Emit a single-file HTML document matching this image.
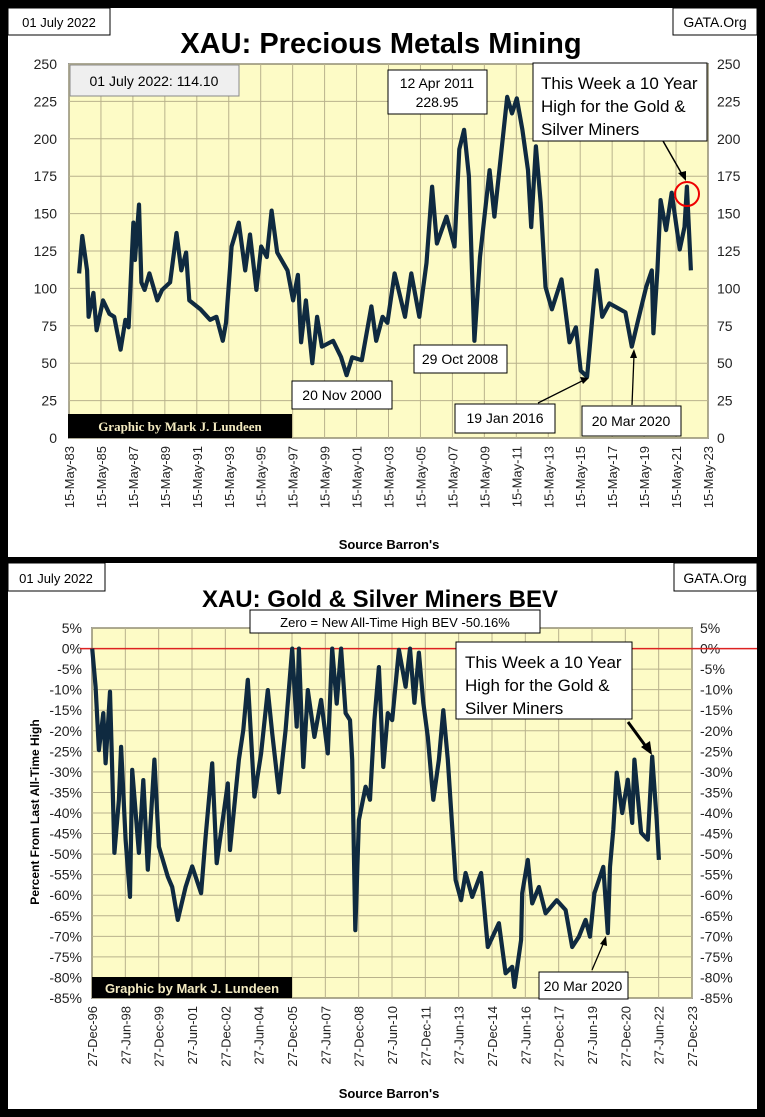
<!DOCTYPE html>
<html><head><meta charset="utf-8"><style>
html,body{margin:0;padding:0;background:#000;width:765px;height:1117px;overflow:hidden}
svg{display:block;font-family:"Liberation Sans",sans-serif}
</style></head><body>
<svg id="s" width="765" height="1117" viewBox="0 0 765 1117">
<rect x="0" y="0" width="765" height="1117" fill="#000"/>
<g id="top">
<rect x="8" y="8" width="749" height="549" fill="#fff"/>
<rect id="p1" x="69" y="64" width="639" height="374" fill="#fdfbc6" stroke="#444" stroke-width="1.5"/>
<g id="g1"></g>
<g id="ax1"></g>
<path id="l1" fill="none" stroke="#0f2a40" stroke-width="4.2" stroke-linejoin="round"/>
<rect x="8" y="8" width="102" height="27" fill="#fff" stroke="#000"/>
<text x="59" y="27" font-size="13" text-anchor="middle">01 July 2022</text>
<text x="381" y="53" font-size="29" font-weight="bold" text-anchor="middle">XAU: Precious Metals Mining</text>
<rect x="673" y="8" width="84" height="27" fill="#fff" stroke="#000"/>
<text x="715" y="27" font-size="14" text-anchor="middle">GATA.Org</text>
<rect x="70" y="65" width="169" height="31" fill="#efefef" stroke="#888"/>
<text x="154" y="86" font-size="14" text-anchor="middle">01 July 2022:  114.10</text>
<rect x="388" y="70" width="99" height="44" fill="#fff" stroke="#000"/>
<text x="437" y="88" font-size="14" text-anchor="middle">12 Apr 2011</text>
<text x="437" y="107" font-size="14" text-anchor="middle">228.95</text>
<rect x="533" y="63" width="174" height="78" fill="#fff" stroke="#000"/>
<text x="541" y="89" font-size="17">This Week a 10 Year</text>
<text x="541" y="112" font-size="17">High for the Gold &amp;</text>
<text x="541" y="135" font-size="17">Silver Miners</text>
<line x1="663" y1="141" x2="683" y2="176" stroke="#000" stroke-width="1.5"/>
<polygon points="686,181 678,173 686,171" fill="#000"/>
<circle cx="687" cy="194" r="12" fill="none" stroke="#e00" stroke-width="2"/>
<rect x="414" y="345" width="93" height="28" fill="#fff" stroke="#000"/>
<text x="460" y="364" font-size="14" text-anchor="middle">29 Oct 2008</text>
<rect x="292" y="381" width="100" height="28" fill="#fff" stroke="#000"/>
<text x="342" y="400" font-size="14" text-anchor="middle">20 Nov 2000</text>
<rect x="455" y="404" width="100" height="29" fill="#fff" stroke="#000"/>
<text x="505" y="423" font-size="14" text-anchor="middle">19 Jan 2016</text>
<line x1="538" y1="403" x2="584" y2="380" stroke="#000" stroke-width="1.3"/>
<polygon points="589,378 580,377 583,384" fill="#000"/>
<rect x="582" y="406" width="99" height="30" fill="#fff" stroke="#000"/>
<text x="631" y="426" font-size="14" text-anchor="middle">20 Mar 2020</text>
<line x1="632" y1="405" x2="634" y2="355" stroke="#000" stroke-width="1.3"/>
<polygon points="634,349 630,358 637,358" fill="#000"/>
<rect x="68" y="414" width="224" height="24" fill="#000"/>
<text x="180" y="431" font-size="13" font-weight="bold" fill="#f3eac0" text-anchor="middle" font-family="Liberation Serif,serif">Graphic by Mark J. Lundeen</text>
<text x="389" y="549" font-size="13" font-weight="bold" text-anchor="middle">Source Barron's</text>
</g>
<g id="bot">
<rect x="8" y="563" width="749" height="546" fill="#fff"/>
<rect id="p2" x="92" y="628" width="600" height="370" fill="#fdfbc6" stroke="#444" stroke-width="1.5"/>
<g id="g2"></g>
<g id="ax2"></g>
<line x1="80" y1="648.6" x2="757" y2="648.6" stroke="#d22" stroke-width="1.5"/>
<path id="l2" fill="none" stroke="#0f2a40" stroke-width="4.2" stroke-linejoin="round"/>
<rect x="8" y="563" width="97" height="28" fill="#fff" stroke="#000"/>
<text x="56" y="583" font-size="13" text-anchor="middle">01 July 2022</text>
<text x="380" y="607" font-size="24" font-weight="bold" text-anchor="middle">XAU: Gold &amp; Silver Miners BEV</text>
<rect x="674" y="563" width="83" height="28" fill="#fff" stroke="#000"/>
<text x="715" y="583" font-size="14" text-anchor="middle">GATA.Org</text>
<rect x="250" y="610" width="290" height="23" fill="#fff" stroke="#000"/>
<text x="395" y="627" font-size="13" text-anchor="middle">Zero = New All-Time High BEV -50.16%</text>
<rect x="456" y="642" width="176" height="77" fill="#fff" stroke="#000"/>
<text x="465" y="668" font-size="17">This Week a 10 Year</text>
<text x="465" y="691" font-size="17">High for the Gold &amp;</text>
<text x="465" y="714" font-size="17">Silver Miners</text>
<line x1="628" y1="722" x2="647" y2="748" stroke="#000" stroke-width="3"/>
<polygon points="652,755 641,747 650,741" fill="#000"/>
<rect x="539" y="972" width="89" height="27" fill="#fff" stroke="#000"/>
<text x="583" y="991" font-size="14" text-anchor="middle">20 Mar 2020</text>
<line x1="592" y1="970" x2="604" y2="942" stroke="#000" stroke-width="1.3"/>
<polygon points="606,936 600,944 607,946" fill="#000"/>
<rect x="92" y="977" width="200" height="21" fill="#000"/>
<text x="192" y="993" font-size="13" font-weight="bold" fill="#f3eac0" text-anchor="middle">Graphic by Mark J. Lundeen</text>
<text transform="translate(39,812) rotate(-90)" font-size="12" font-weight="bold" text-anchor="middle">Percent  From  Last  All-Time  High</text>
<text x="389" y="1098" font-size="13" font-weight="bold" text-anchor="middle">Source Barron's</text>
</g>
</svg>
<script>
// Top chart data
const topYears=[1984.0,1984.2,1984.5,1984.6,1984.9,1985.1,1985.5,1985.9,1986.2,1986.6,1986.9,1987.1,1987.4,1987.5,1987.75,1987.9,1988.1,1988.4,1988.9,1989.2,1989.7,1990.1,1990.4,1990.7,1990.9,1991.6,1992.2,1992.6,1993.0,1993.2,1993.55,1994.0,1994.4,1994.7,1995.1,1995.4,1995.75,1996.05,1996.4,1997.05,1997.4,1997.7,1997.9,1998.2,1998.6,1998.9,1999.2,1999.9,2000.4,2000.75,2001.1,2001.7,2002.3,2002.6,2003.0,2003.3,2003.75,2004.4,2004.8,2005.3,2005.75,2006.1,2006.4,2007.0,2007.5,2007.8,2008.1,2008.4,2008.6,2008.75,2009.1,2009.7,2010.0,2010.4,2010.8,2011.1,2011.4,2011.75,2012.1,2012.3,2012.6,2012.9,2013.2,2013.6,2014.2,2014.7,2015.1,2015.4,2015.8,2016.1,2016.4,2016.75,2017.2,2018.2,2018.6,2019.0,2019.5,2019.85,2019.95,2020.2,2020.4,2020.75,2021.1,2021.6,2021.9,2022.05,2022.3];
const topValues=[110,135,112,81,97,72,92,83,81,59,79,74,144,119,156,104,99,110,92,99,104,137,112,124,92,86,79,81,65,77,128,144,112,136,99,128,121,152,124,112,92,109,64,92,50,81,61,65,54,42,54,52,88,65,81,77,110,81,110,81,117,168,130,148,128,193,206,175,112,65,121,179,148,188,228,217,227,206,179,141,195,157,101,86,106,64,74,45,41,77,112,81,90,84,61,79,101,112,70,112,159,139,164,126,141,168,112];
const topYTicks=[0,25,50,75,100,125,150,175,200,225,250];
const topXLabels=["15-May-83","15-May-85","15-May-87","15-May-89","15-May-91","15-May-93","15-May-95","15-May-97","15-May-99","15-May-01","15-May-03","15-May-05","15-May-07","15-May-09","15-May-11","15-May-13","15-May-15","15-May-17","15-May-19","15-May-21","15-May-23"];
// Bottom chart data
const botYears=[1997.0,1997.15,1997.3,1997.5,1997.6,1997.8,1997.9,1998.0,1998.2,1998.3,1998.5,1998.7,1998.8,1999.1,1999.3,1999.5,1999.8,2000.0,2000.4,2000.6,2000.85,2001.2,2001.5,2001.9,2002.1,2002.4,2002.6,2003.1,2003.2,2003.6,2003.8,2004.0,2004.3,2004.6,2004.9,2005.1,2005.4,2005.7,2006.0,2006.2,2006.3,2006.5,2006.7,2007.0,2007.3,2007.6,2007.8,2008.0,2008.2,2008.4,2008.6,2008.7,2008.84,2009.0,2009.3,2009.5,2009.7,2009.9,2010.1,2010.3,2010.5,2010.8,2011.1,2011.3,2011.5,2011.7,2011.9,2012.1,2012.35,2012.6,2012.8,2013.0,2013.2,2013.35,2013.6,2013.8,2014.1,2014.5,2014.8,2015.3,2015.6,2015.9,2016.0,2016.3,2016.35,2016.6,2016.8,2017.1,2017.4,2017.9,2018.3,2018.6,2018.9,2019.2,2019.4,2019.6,2019.8,2020.0,2020.2,2020.3,2020.45,2020.6,2020.85,2021.1,2021.3,2021.4,2021.7,2022.0,2022.2,2022.4,2022.5];
const botValues=[0,-9.3,-24.7,-15.7,-27.9,-10.5,-29.5,-49.7,-36.8,-23.9,-46.5,-60.4,-29.5,-49.7,-32,-53.8,-27,-48.2,-55.5,-58,-66,-58,-53,-59.5,-45.8,-27.9,-52.2,-32.8,-49,-27,-19.8,-7.6,-36,-25.5,-10.1,-20.6,-35,-19.8,0,-19,0,-28.8,-10.1,-21.5,-12.5,-25.5,0,-13.4,0,-15.7,-17.4,-27,-68.5,-41.7,-33.6,-36.8,-17.4,-4.5,-28.8,-15.7,-17.4,-0.3,-9.3,0,-13.2,-1,-13.2,-21.5,-36.8,-27,-15,-27,-43.4,-56.3,-61.2,-54.6,-60.4,-54.6,-72.6,-66.8,-79,-77.4,-82.3,-70.9,-59.5,-51.4,-62,-58,-64.4,-61.2,-63.6,-72.6,-70.1,-66,-70.1,-59.5,-56.3,-53.1,-69.2,-53.1,-44,-30.2,-40,-31.9,-42.4,-27,-44.8,-46.5,-26.3,-41.7,-51.4];
const botYTicks=[5,0,-5,-10,-15,-20,-25,-30,-35,-40,-45,-50,-55,-60,-65,-70,-75,-80,-85];
const botXLabels=["27-Dec-96","27-Jun-98","27-Dec-99","27-Jun-01","27-Dec-02","27-Jun-04","27-Dec-05","27-Jun-07","27-Dec-08","27-Jun-10","27-Dec-11","27-Jun-13","27-Dec-14","27-Jun-16","27-Dec-17","27-Jun-19","27-Dec-20","27-Jun-22","27-Dec-23"];

const NS="http://www.w3.org/2000/svg";
function mk(tag,attrs,parent,txt){const e=document.createElementNS(NS,tag);for(const k in attrs)e.setAttribute(k,attrs[k]);if(txt!==undefined)e.textContent=txt;parent.appendChild(e);return e;}

// top axes
const T={x0:69,x1:708,y0:438,y1:64,yr0:1983.37,yr1:2023.37,v0:0,v1:250};
const tx=yr=>T.x0+(yr-T.yr0)/(T.yr1-T.yr0)*(T.x1-T.x0);
const ty=v=>T.y0-(v-T.v0)/(T.v1-T.v0)*(T.y0-T.y1);
const g1=document.getElementById('g1'),ax1=document.getElementById('ax1');
topYTicks.forEach(v=>{
  const y=ty(v);
  const gl=mk('line',{x1:T.x0,x2:T.x1,y1:y,y2:y,stroke:'#b9b28c','stroke-width':1},g1);
  
  
  const a=mk('text',{x:57,y:y+5,'font-size':14,'text-anchor':'end',fill:'#222'},ax1,String(v));
  
  
  const b=mk('text',{x:717,y:y+5,'font-size':14,fill:'#222'},ax1,String(v));
  
  
});
topXLabels.forEach((lab,i)=>{
  const x=T.x0+i*(T.x1-T.x0)/(topXLabels.length-1);
  const gl=mk('line',{x1:x,x2:x,y1:T.y1,y2:T.y0,stroke:'#b9b28c','stroke-width':1},g1);
  
  
  const t=mk('text',{transform:`translate(${x+5},446) rotate(-90)`,'font-size':13,'text-anchor':'end',fill:'#222'},ax1,lab);
  
  
});
document.getElementById('l1').setAttribute('d',topYears.map((yr,i)=>(i?'L':'M')+tx(yr).toFixed(1)+','+ty(topValues[i]).toFixed(1)).join(''));

// bottom axes
const B={x0:92,x1:692,y0:998,y1:628,yr0:1996.99,yr1:2023.99,v0:-85,v1:5};
const bx=yr=>B.x0+(yr-B.yr0)/(B.yr1-B.yr0)*(B.x1-B.x0);
const by=v=>B.y0-(v-B.v0)/(B.v1-B.v0)*(B.y0-B.y1);
const g2=document.getElementById('g2'),ax2=document.getElementById('ax2');
botYTicks.forEach(v=>{
  const y=by(v);
  const gl=mk('line',{x1:B.x0,x2:B.x1,y1:y,y2:y,stroke:'#b9b28c','stroke-width':1},g2);
  
  
  const a=mk('text',{x:82,y:y+5,'font-size':14,'text-anchor':'end',fill:'#222'},ax2,v+'%');
  
  
  const b=mk('text',{x:700,y:y+5,'font-size':14,fill:'#222'},ax2,v+'%');
  
  
});
botXLabels.forEach((lab,i)=>{
  const x=B.x0+i*(B.x1-B.x0)/(botXLabels.length-1);
  const gl=mk('line',{x1:x,x2:x,y1:B.y1,y2:B.y0,stroke:'#b9b28c','stroke-width':1},g2);
  
  
  const t=mk('text',{transform:`translate(${x+5},1006) rotate(-90)`,'font-size':13,'text-anchor':'end',fill:'#222'},ax2,lab);
  
  
});
document.getElementById('l2').setAttribute('d',botYears.map((yr,i)=>(i?'L':'M')+bx(yr).toFixed(1)+','+by(botValues[i]).toFixed(1)).join(''));
</script>
</body></html>
